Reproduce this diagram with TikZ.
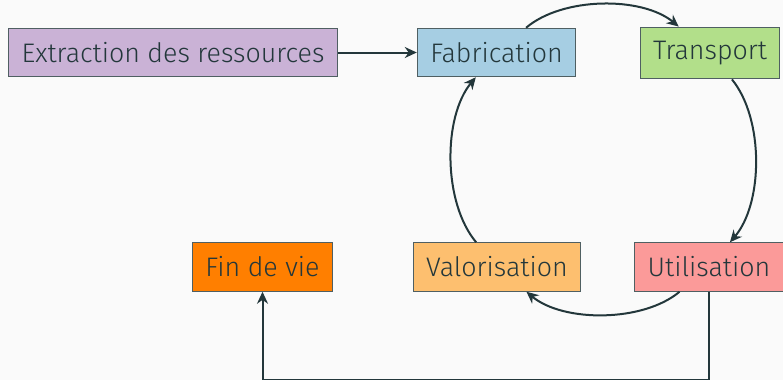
\documentclass[tikz,border=0pt]{standalone}
\usepackage{fontspec}
\setmainfont{Fira Sans}[UprightFont=* Light]
\usetikzlibrary{arrows.meta}

\definecolor{bgpage}{HTML}{FAFAFA}
\definecolor{dark}{HTML}{23373B}
\definecolor{cextract}{HTML}{CAB2D6}
\definecolor{cfab}{HTML}{A6CEE3}
\definecolor{ctrans}{HTML}{B2DF8A}
\definecolor{cutil}{HTML}{FB9A99}
\definecolor{cvalo}{HTML}{FDBF6F}
\definecolor{cfin}{HTML}{FF7F00}

\tikzset{
  stage/.style={draw=dark!80,line width=0.5pt,inner xsep=6.5pt,inner ysep=7pt,text=dark,font=\fontsize{13.4}{16}\selectfont},
  flow/.style={-{Stealth[length=6pt,width=5.5pt]},draw=dark,line width=1pt},
  cycle/.style={flow,bend left=40,looseness=0.8},
}

\begin{document}
\begin{tikzpicture}[x=0.5pt,y=-0.5pt]
\fill[bgpage] (0,0) rectangle (783,380);
\useasboundingbox (0,0) rectangle (783,380);

\node[stage,fill=cextract] (extract) at (173,52.5) {Extraction des ressources};
\node[stage,fill=cfab] (fab) at (496.5,52.5) {Fabrication};
\node[stage,fill=ctrans] (trans) at (710,53) {Transport};
\node[stage,fill=cutil] (util) at (709,267) {Utilisation};
\node[stage,fill=cvalo] (valo) at (497,267) {Valorisation};
\node[stage,fill=cfin] (fin) at (262.5,267) {Fin de vie};

\draw[flow] (extract) -- (fab);
\draw[cycle] (fab) to (trans);
\draw[cycle] (trans) to (util);
\draw[cycle] (util) to (valo);
\draw[cycle] (valo) to (fab);
\draw[flow] (util.south) -- ++(0,88) -| (fin.south);

\end{tikzpicture}
\end{document}
